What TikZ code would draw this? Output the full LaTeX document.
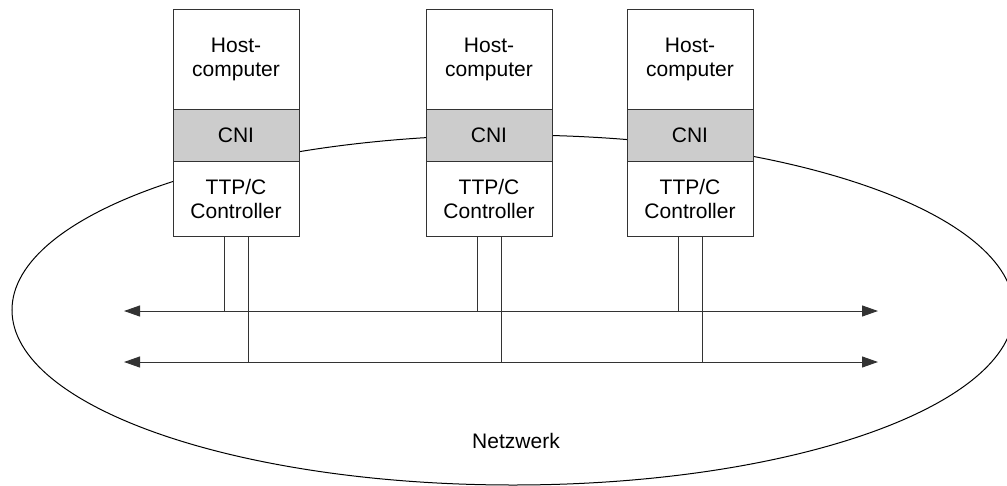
\documentclass[tikz,border=0pt]{standalone}
\usepackage{fontspec}
\setmainfont{Liberation Sans}
\usetikzlibrary{positioning,arrows.meta}
\usepackage{xcolor}
\definecolor{cnigray}{RGB}{204,204,204}
\definecolor{edgegray}{RGB}{51,51,51}

\begin{document}
\begin{tikzpicture}[x=1pt, y=-1pt, line width=1pt,
    part/.style={draw=edgegray, fill=white, minimum width=126pt, inner sep=0pt, outer sep=0pt,
      align=center, font=\fontsize{21}{24}\selectfont},
    bus/.style={{Triangle[length=16pt,width=11pt]}-{Triangle[length=16pt,width=11pt]}, draw=edgegray}]
  \useasboundingbox (0,0) rectangle (1007,485);
  % network ring
  \draw (513,310) ellipse [x radius=501, y radius=175];
  \node[font=\fontsize{21}{24}\selectfont] (net) at (516,441) {Netzwerk};
  % buses
  \coordinate (busAl) at (124,311);
  \coordinate (busAr) at (878,311);
  \coordinate (busBl) at (124,362);
  \coordinate (busBr) at (878,362);
  \draw[bus] (busAl) -- (busAr);
  \draw[bus] (busBl) -- (busBr);
  % nodes
  \foreach \n/\x in {a/236,b/489,c/690} {
    \node[part, minimum height=100pt, anchor=north] (\n-host) at (\x,9) {Host-\\computer};
    \node[part, minimum height=52pt, fill=cnigray, below=0pt of \n-host] (\n-cni) {CNI};
    \node[part, minimum height=75pt, below=0pt of \n-cni] (\n-ttp) {TTP/C\\Controller};
    \draw[edgegray] ([xshift=-12pt]\n-ttp.south) -- ([xshift=-12pt]\n-ttp.south |- busAl);
    \draw[edgegray] ([xshift=12pt]\n-ttp.south) -- ([xshift=12pt]\n-ttp.south |- busBl);
  }
\end{tikzpicture}
\end{document}
